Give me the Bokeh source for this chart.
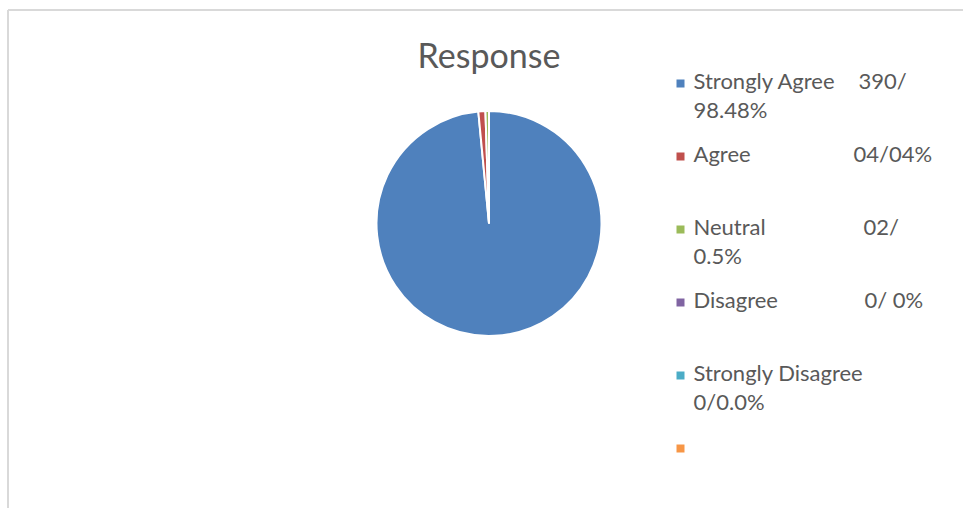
import math
from bokeh.plotting import figure
from bokeh.models import ColumnDataSource, Range1d
from bokeh.core.properties import value
from bokeh.embed import file_html
from bokeh.resources import INLINE

# ---- data ----
title_text = "Response"
categories = ["Strongly Agree", "Agree", "Neutral", "Disagree", "Strongly Disagree", ""]
counts = [390, 4, 2, 0, 0, 0]
colors = ["#4F81BD", "#C0504D", "#9BBB59", "#8064A2", "#4BACC6", "#F79646"]
legend_value = ["390/", "04/04%", "02/", "0/ 0%", "", ""]
legend_wrap = ["98.48%", "", "0.5%", "", "0/0.0%", ""]

# ---- layout (pixel-like data space, y measured up from the bottom) ----
W, H = 963, 508
cx, cy, r = 488.5, H - 223, 112.5
value_x = [858, 853, 863, 864, 0, 0]
leg_x_sq, leg_x_txt = 680, 693
leg_base0, leg_dy, wrap_dy = H - 80, 73, 29
text_color = "#595959"
font = value("Lato")

p = figure(width=W, height=H, x_range=Range1d(0, W), y_range=Range1d(0, H),
           output_backend="svg", toolbar_location=None, min_border=0)
p.axis.visible = False
p.grid.visible = False
p.outline_line_color = None
p.background_fill_color = "white"

# border (top and left edges only, the rest is cut off in the reference)
p.line(x=[7.5, 7.5], y=[0, H - 9.5], line_color="#d9d9d9", line_width=2)
p.line(x=[7.5, W], y=[H - 9.5, H - 9.5], line_color="#d9d9d9", line_width=2)

# pie
total = sum(counts)
starts, ends, cols = [], [], []
cum = 0
for c, col in zip(counts, colors):
    if c > 0:
        a0 = math.pi / 2 - 2 * math.pi * cum / total
        a1 = math.pi / 2 - 2 * math.pi * (cum + c) / total
        starts.append(a0)
        ends.append(a1)
        cols.append(col)
    cum += c
pie_src = ColumnDataSource(dict(x=[cx] * len(starts), y=[cy] * len(starts),
                                start=starts, end=ends, color=cols))
p.wedge(x="x", y="y", radius=r, start_angle="start", end_angle="end",
        direction="clock", fill_color="color", line_color="white",
        line_width=2, source=pie_src)

# title
p.text(x=[cx], y=[H - 54], text=[title_text], text_font=font,
       text_font_size="34px", text_color=text_color,
       text_align="center", text_baseline="alphabetic")

# legend
bases = [leg_base0 - i * leg_dy for i in range(len(categories))]
p.rect(x=[leg_x_sq] * len(categories), y=[b - 3 for b in bases], width=8, height=8,
       fill_color=colors, line_color=None)
p.text(x=[leg_x_txt] * len(categories), y=bases, text=categories, text_font=font,
       text_font_size="22px", text_color=text_color, text_baseline="alphabetic")
vx, vy, vt = [], [], []
for i, t in enumerate(legend_value):
    if t:
        vx.append(value_x[i]); vy.append(bases[i]); vt.append(t)
p.text(x=vx, y=vy, text=vt, text_font=font, text_font_size="22px",
       text_color=text_color, text_baseline="alphabetic")
wx, wy, wt = [], [], []
for i, t in enumerate(legend_wrap):
    if t:
        wx.append(leg_x_txt); wy.append(bases[i] - wrap_dy); wt.append(t)
p.text(x=wx, y=wy, text=wt, text_font=font, text_font_size="22px",
       text_color=text_color, text_baseline="alphabetic")

open("out.html", "w").write(file_html(p, INLINE))
